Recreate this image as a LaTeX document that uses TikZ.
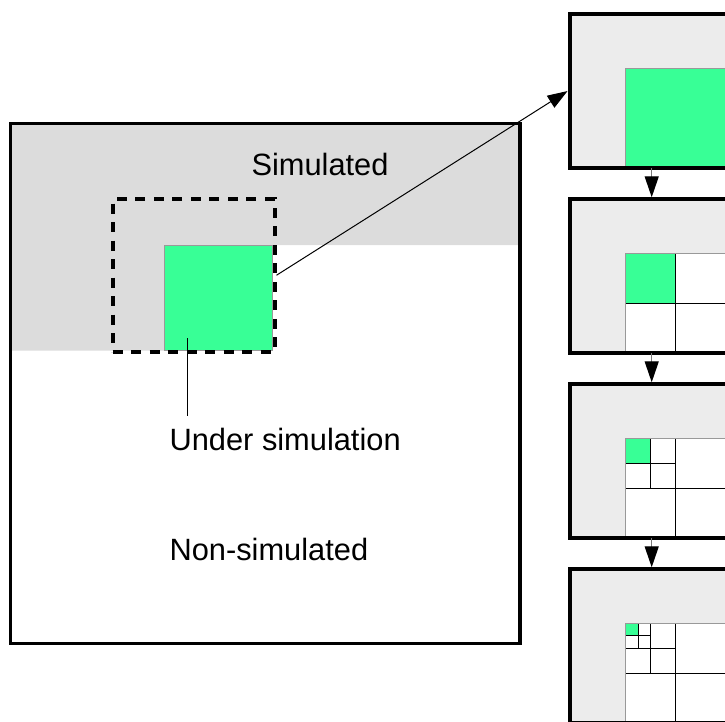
\documentclass[tikz,border=0pt]{standalone}
\usepackage{fontspec}
\setmainfont{Liberation Sans}
\usetikzlibrary{arrows.meta}

\definecolor{simgray}{HTML}{DCDCDC}
\definecolor{panelgray}{HTML}{ECECEC}
\definecolor{activegreen}{HTML}{38FF96}
\definecolor{edgegray}{HTML}{999999}
\definecolor{linkgray}{HTML}{7A7A7A}

\begin{document}
\begin{tikzpicture}[x=1pt,y=-1pt,
  label text/.style={inner sep=0pt,font=\fontsize{30.8}{36}\selectfont},
  cell/.style={draw=edgegray,line width=0.8pt,inner sep=0pt,outer sep=0pt},
  focus/.style={draw,line width=4pt,dash pattern=on 10pt off 8.5pt,inner sep=0pt},
  domainbox/.style={draw,line width=3.5pt,inner sep=0pt,outer sep=0pt},
  panel/.style={fill=panelgray,inner sep=0pt,outer sep=0pt,minimum width=164.4pt,minimum height=153.5pt},
  split/.style={black,line width=1pt},
  bigarrow/.style={line width=1pt,-{Triangle[length=20pt,width=14pt]}},
  vconn/.style={linkgray,line width=1.3pt,-{Triangle[length=21pt,width=14pt,color=black,fill=black]}}
]
\useasboundingbox (0,0) rectangle (725,721);
\clip (0,0) rectangle (725,721);

% simulated part of the domain
\fill[simgray] (10.5,123.5) -- (519.8,123.5) -- (519.8,245) -- (164,245)
  -- (164,350.5) -- (10.5,350.5) -- cycle;

% cell under simulation and its neighbourhood
\node[cell,fill=activegreen,minimum width=108pt,minimum height=105.5pt] (g) at (218,297.75) {};
\node[focus,minimum width=162pt,minimum height=152.5pt] (dz) at (193.5,275.25) {};

% domain outline
\node[domainbox,minimum width=509.3pt,minimum height=519.8pt] (main) at (265.15,383.4) {};

% labels
\node[label text,anchor=base] (simlbl) at (320,175) {Simulated};
\node[label text,anchor=base west] (us) at (169.4,450) {Under simulation};
\node[label text,anchor=base west] (nonsim) at (169.4,560) {Non-simulated};

\coordinate (ptr) at (187,338);
\draw[line width=0.8pt] (ptr) -- ([yshift=11pt]us.north -| ptr);

% refinement panels
\foreach \k in {0,1,2,3}{
  \pgfmathsetmacro\ty{14.3+185*\k}
  \node[panel] (b\k) at (651.7,\ty+76.75) {};
  \fill[white] (625.8,\ty+54) rectangle ++(100,100);
  \pgfmathsetmacro\gs{100/2^\k}
  \fill[activegreen] (625.8,\ty+54) rectangle ++(\gs,\gs);
  \ifnum\k>0
    \foreach \j in {1,...,\k}{
      \pgfmathsetmacro\h{100/2^\j}
      \draw[split] (625.8+\h,\ty+54) -- ++(0,2*\h);
      \draw[split] (625.8,\ty+54+\h) -- ++(2*\h,0);
    }
  \fi
  \draw[edgegray,line width=1pt] (625.8,\ty+154) -- (625.8,\ty+54) -- (727,\ty+54);
  \draw[line width=4pt] (b\k.north west) rectangle (b\k.south east);
}

% connectors
\draw[bigarrow] (dz.east) -- ([xshift=-2pt]b0.west);
\foreach \a/\b in {0/1,1/2,2/3}
  \draw[vconn] (b\a.south) -- ([yshift=2pt]b\b.north);
\end{tikzpicture}
\end{document}
